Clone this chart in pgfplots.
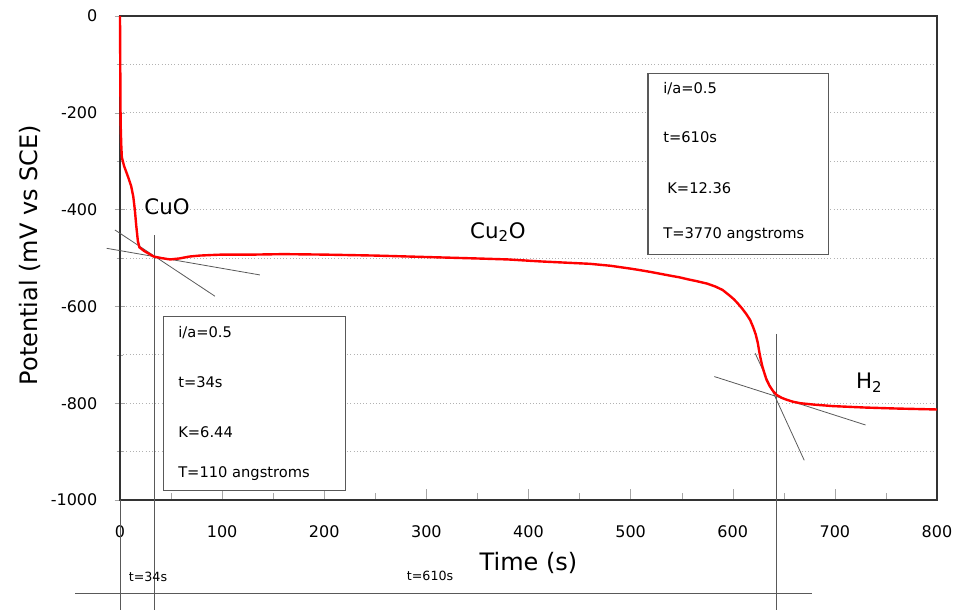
\documentclass[border=0pt]{standalone}
\usepackage{fontspec}
\setmainfont{DejaVu Sans}
\usepackage{pgfplots}
\pgfplotsset{compat=1.18}
\begin{document}
\begin{tikzpicture}
\path[use as bounding box] (0,0) rectangle (720pt,457.5pt);
\begin{axis}[
 at={(90pt,82.5pt)}, anchor=south west,
 scale only axis, width=612.75pt, height=363pt,
 xmin=0,xmax=800,ymin=-1000,ymax=0,
 xtick={0,100,...,800}, minor xtick={50,150,...,750},
 ytick={-1000,-800,...,0}, minor ytick={-900,-700,...,-100},
 xtick pos=bottom, ytick pos=left,
 ymajorgrids, yminorgrids,
 major grid style={gray!60, dotted, line width=0.6pt},
 minor grid style={gray!60, dotted, line width=0.6pt},
 xtick align=inside, ytick align=center,
 major tick length=8pt, minor tick length=5pt,
 tick style={gray!70},
 axis line style={black!80, line width=1pt},
 clip=false,
 /pgf/number format/assume math mode=true,
 /pgf/number format/1000 sep={},
 ticklabel style={font=\fontsize{12}{14}\selectfont},
 xticklabel style={anchor=center, yshift=-24pt},
 yticklabel style={anchor=east, inner sep=0pt, outer sep=0pt},
 yticklabel shift=13pt,
 xlabel={Time (s)}, ylabel={Potential (mV vs SCE)},
 label style={font=\fontsize{18}{20}\selectfont},
 xlabel style={at={(axis description cs:0.50,-0.13)}, anchor=center},
 ylabel style={at={(axis description cs:-0.11,0.506)}, anchor=center},
]
% tangent and reference lines
\addplot[gray!70!black, line width=0.6pt] coordinates {(-5,-442) (93,-579)};
\addplot[gray!70!black, line width=0.6pt] coordinates {(-13,-480) (137,-535)};
\addplot[gray!70!black, line width=0.6pt] coordinates {(622,-697) (670,-918)};
\addplot[gray!70!black, line width=0.6pt] coordinates {(582,-745) (730,-845)};
\addplot[gray!70!black, line width=0.6pt] coordinates {(34,-453) (34,-1227)};
\addplot[gray!70!black, line width=0.6pt] coordinates {(642.5,-657) (642.5,-1227)};
\addplot[gray!70!black, line width=0.6pt] coordinates {(0,-1000) (0,-1227)};
\addplot[gray!70!black, line width=0.6pt] coordinates {(-44,-1194) (678,-1194)};
% main curve
\addplot[red, line width=1.8pt, line join=round] coordinates {
(0,0)(0.3,-120)(0.6,-220)(1.2,-265)(1.8,-292)(4,-310)(8,-333)(11,-352)(13,-373)(14.5,-400)(16,-435)(17.5,-465)(19,-478)(24,-486)(29,-492)(33,-497)(40,-500)(49,-503)(58,-501)(68,-497)(78,-495)(88,-494)(100,-493)(130,-493)(160,-492)(200,-493)(250,-495)(300,-498)(350,-501)(380,-503)(411,-507)(440,-510)(460,-512)(470,-514)(480,-516)(490,-519)(500,-522)(509,-525)(520,-529)(530,-533)(540,-537)(548,-540)(556,-544)(565,-548)(575,-553)(583,-559)(590,-566)(596,-576)(601,-585)(605,-594)(609,-604)(613,-615)(617,-628)(620,-643)(622.5,-658)(624.5,-675)(626,-694)(627.5,-710)(629,-724)(631,-738)(633,-751)(636,-764)(639.5,-775)(643,-783)(648,-789)(653,-793)(659,-797)(666,-800)(680,-803)(698,-806)(730,-809)(760,-811)(800,-813)
};
% boxes
\draw[gray!70!black, fill=white, line width=0.8pt] (axis cs:43,-620) rectangle (axis cs:221,-981);
\draw[gray!70!black, fill=white, line width=0.8pt] (axis cs:517,-118) rectangle (axis cs:694,-492);
\begin{scope}[every node/.style={font=\fontsize{11}{12}\selectfont, anchor=west, inner sep=0pt}]
\node at (axis cs:56.8,-655) {i/a=0.5};
\node at (axis cs:56.8,-756) {t=34s};
\node at (axis cs:56.8,-860) {K=6.44};
\node at (axis cs:56.8,-946) {T=110 angstroms};
\node at (axis cs:531.8,-151) {i/a=0.5};
\node at (axis cs:531.8,-250) {t=610s};
\node at (axis cs:535.7,-355) {K=12.36};
\node at (axis cs:531.8,-452) {T=3770 angstroms};
\end{scope}
\node[font=\fontsize{16}{18}\selectfont] at (axis cs:46,-395) {CuO};
\node[font=\fontsize{16}{18}\selectfont] at (axis cs:370,-446) {Cu\textsubscript{2}O};
\node[font=\fontsize{16}{18}\selectfont] at (axis cs:733.6,-758) {H\textsubscript{2}};
\node[font=\fontsize{9.5}{11}\selectfont] at (axis cs:27.4,-1159) {t=34s};
\node[font=\fontsize{9.5}{11}\selectfont] at (axis cs:303.6,-1157) {t=610s};
\end{axis}
\end{tikzpicture}
\end{document}
